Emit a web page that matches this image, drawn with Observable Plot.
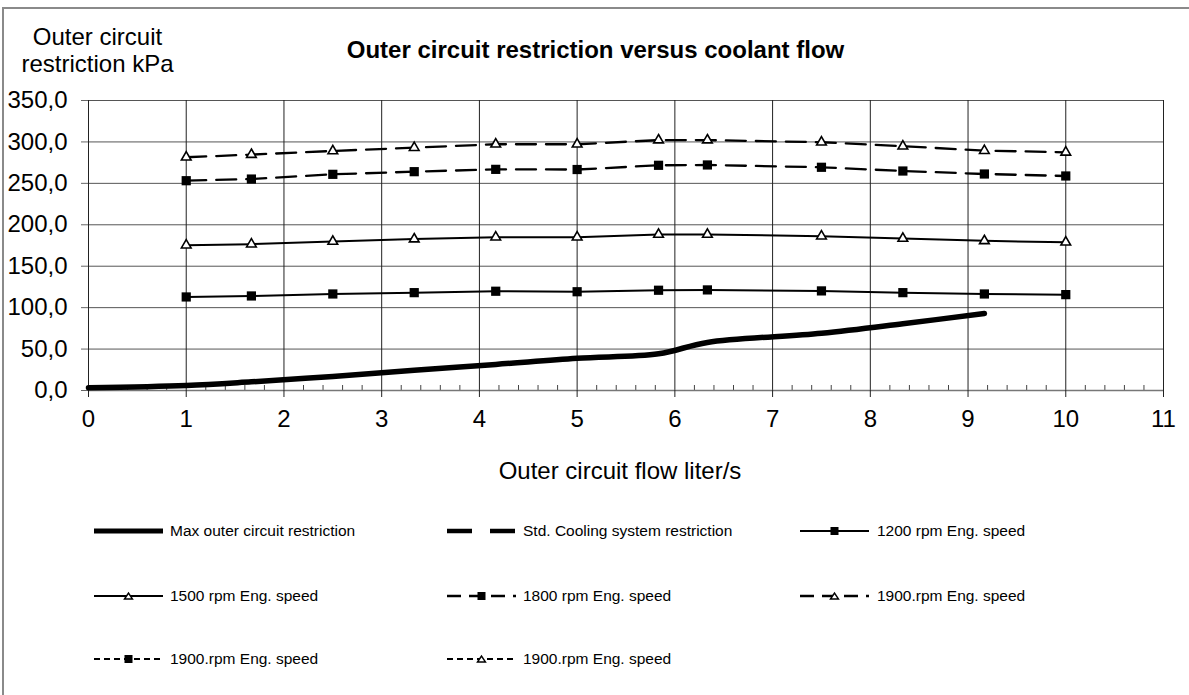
<!DOCTYPE html>
<html>
<head>
<meta charset="utf-8">
<script src="https://cdn.jsdelivr.net/npm/d3@7"></script>
<script src="https://cdn.jsdelivr.net/npm/@observablehq/plot@0.6"></script>
<style>
  html, body { margin: 0; padding: 0; background: #fff; }
  #root { position: relative; width: 1189px; height: 695px; overflow: hidden; font-family: "Liberation Sans", Arial, sans-serif; color: #000; }
  .frame { position: absolute; left: 2px; top: 7px; width: 1300px; height: 800px; border-left: 2px solid #8a8a8a; border-top: 2px solid #8a8a8a; }
  .abs { position: absolute; white-space: nowrap; }
  #plot { position: absolute; left: 0; top: 0; }
  .leg-text { position: absolute; font-size: 15.5px; line-height: 16px; white-space: nowrap; }
  .leg-svg { position: absolute; overflow: visible; }
</style>
</head>
<body>
<div id="root">
  <div class="frame"></div>
  <div id="plot"></div>
  <div class="abs" id="ytitle" style="left:0; width:195px; top:23px; text-align:center; font-size:24px; line-height:27px;"></div>
  <div class="abs" id="title" style="left:0; width:1191px; top:38px; text-align:center; font-size:24px; line-height:24px; font-weight:bold;"></div>
  <div class="abs" id="xtitle" style="left:0; width:1240px; top:459px; text-align:center; font-size:24px; line-height:24px;"></div>
  <div id="legend"></div>
</div>
<script>
// ---- data ----
const chartTitle = "Outer circuit restriction versus coolant flow";
const yTitleLines = ["Outer circuit", "restriction kPa"];
const xTitle = "Outer circuit flow liter/s";

const flow = [1, 1.667, 2.5, 3.333, 4.167, 5, 5.833, 6.333, 7.5, 8.333, 9.167, 10];
const maxFlow = [0, 1, 1.667, 2.5, 3.333, 4.167, 5, 5.833, 6.333, 7.5, 8.333, 9.167];
const maxRestriction = [3.3, 6.1, 10.5, 17, 24.5, 31.5, 39, 44.3, 58, 69, 80.5, 93];
const rpm1200 = [112.9, 114.1, 116.5, 118.1, 119.8, 119.2, 121, 121.4, 120.2, 118.1, 116.5, 115.7];
const rpm1500 = [175.4, 176.6, 179.8, 182.7, 185.1, 185.1, 188.3, 188.3, 186.3, 183.5, 180.6, 179];
const rpm1800 = [253.2, 255.2, 260.9, 264.1, 266.9, 266.7, 271.8, 272.2, 269.4, 264.9, 261.3, 258.9];
const rpm1900 = [281.5, 284.7, 289.1, 293.1, 297.2, 297.2, 302.2, 302.2, 299.6, 294.8, 289.5, 287.5];

const seriesNames = [
  "Max outer circuit restriction",
  "Std. Cooling system restriction",
  "1200 rpm Eng. speed",
  "1500 rpm Eng. speed",
  "1800 rpm Eng. speed",
  "1900.rpm Eng. speed",
  "1900.rpm Eng. speed",
  "1900.rpm Eng. speed"
];

const yTicks = [0, 50, 100, 150, 200, 250, 300, 350];
const xTicks = [0, 1, 2, 3, 4, 5, 6, 7, 8, 9, 10, 11];
const xMinorTicks = d3.range(0, 55).map(i => i / 5).filter(v => Math.abs(v - Math.round(v)) > 1e-9);

// ---- build tables ----
const toRows = (xs, ys) => xs.map((x, i) => ({x, y: ys[i]}));
const maxRows = toRows(maxFlow, maxRestriction);
const r1200 = toRows(flow, rpm1200);
const r1500 = toRows(flow, rpm1500);
const r1800 = toRows(flow, rpm1800);
const r1900 = toRows(flow, rpm1900);

const fmt = d => d.toFixed(1).replace(".", ",");

const chart = Plot.plot({
  width: 1189,
  height: 440,
  marginLeft: 88,
  marginRight: 26,
  marginTop: 100,
  marginBottom: 50,
  style: {fontFamily: "'Liberation Sans', Arial, sans-serif", background: "transparent", color: "#000", overflow: "visible"},
  x: {domain: [0, 11]},
  y: {domain: [0, 350]},
  marks: [
    Plot.gridY(yTicks, {stroke: "#555", strokeOpacity: 1, strokeWidth: 1}),
    Plot.gridX(xTicks, {stroke: "#222", strokeOpacity: 1, strokeWidth: 1}),
    Plot.tickX(xMinorTicks, {x: d => d, insetTop: 285, stroke: "#444", strokeWidth: 1}),
    Plot.ruleY([0], {stroke: "#777", strokeWidth: 1.5}),
    Plot.axisY(yTicks, {tickSize: 7, tickPadding: 14, fontSize: 24, tickFormat: fmt, label: null, stroke: "#666"}),
    Plot.axisX(xTicks, {tickSize: 7, tickPadding: 12, fontSize: 24, label: null, stroke: "#222"}),
    // Max outer circuit restriction
    Plot.line(maxRows, {x: "x", y: "y", stroke: "#000", strokeWidth: 5.5, curve: "catmull-rom"}),
    // 1200 rpm
    Plot.line(r1200, {x: "x", y: "y", stroke: "#000", strokeWidth: 2}),
    Plot.dot(r1200, {x: "x", y: "y", symbol: "square", r: 5.2, fill: "#000", stroke: "none"}),
    // 1500 rpm
    Plot.line(r1500, {x: "x", y: "y", stroke: "#000", strokeWidth: 2}),
    Plot.dot(r1500, {x: "x", y: "y", symbol: "triangle", r: 3.6, fill: "#fff", stroke: "#000", strokeWidth: 1.6}),
    // 1800 rpm
    Plot.line(r1800, {x: "x", y: "y", stroke: "#000", strokeWidth: 2.3, strokeDasharray: "20,10"}),
    Plot.dot(r1800, {x: "x", y: "y", symbol: "square", r: 5.2, fill: "#000", stroke: "none"}),
    // 1900 rpm
    Plot.line(r1900, {x: "x", y: "y", stroke: "#000", strokeWidth: 2.3, strokeDasharray: "20,10"}),
    Plot.dot(r1900, {x: "x", y: "y", symbol: "triangle", r: 3.6, fill: "#fff", stroke: "#000", strokeWidth: 1.6})
  ]
});
document.getElementById("plot").appendChild(chart);

// ---- titles ----
document.getElementById("title").textContent = chartTitle;
document.getElementById("xtitle").textContent = xTitle;
document.getElementById("ytitle").innerHTML = yTitleLines.map(s => `<div>${s}</div>`).join("");

// ---- legend ----
const legendStyles = [
  {width: 5, dash: null, marker: null},
  {width: 4.5, dash: "25,18", marker: null},
  {width: 2, dash: null, marker: "square"},
  {width: 2, dash: null, marker: "triangle"},
  {width: 2.5, dash: "14,8", marker: "square"},
  {width: 2.5, dash: "14,8", marker: "triangle"},
  {width: 2, dash: "6,4", marker: "square"},
  {width: 2, dash: "6,4", marker: "triangle"}
];
const colSample = [94, 447, 800];
const colText = [170, 523, 877];
const rowY = [531, 596, 659];
const legend = document.getElementById("legend");
seriesNames.forEach((name, i) => {
  const c = i % 3, r = Math.floor(i / 3);
  const st = legendStyles[i];
  const w = 69;
  const svgNS = "http://www.w3.org/2000/svg";
  const svg = document.createElementNS(svgNS, "svg");
  svg.setAttribute("class", "leg-svg");
  svg.setAttribute("width", w);
  svg.setAttribute("height", 14);
  svg.style.left = colSample[c] + "px";
  svg.style.top = (rowY[r] - 7) + "px";
  const line = document.createElementNS(svgNS, "line");
  line.setAttribute("x1", 0); line.setAttribute("x2", w);
  line.setAttribute("y1", 7); line.setAttribute("y2", 7);
  line.setAttribute("stroke", "#000");
  line.setAttribute("stroke-width", st.width);
  if (st.dash) line.setAttribute("stroke-dasharray", st.dash);
  svg.appendChild(line);
  if (st.marker === "square") {
    const rect = document.createElementNS(svgNS, "rect");
    rect.setAttribute("x", w / 2 - 4); rect.setAttribute("y", 3);
    rect.setAttribute("width", 8); rect.setAttribute("height", 8);
    rect.setAttribute("fill", "#000");
    svg.appendChild(rect);
  } else if (st.marker === "triangle") {
    const p = document.createElementNS(svgNS, "path");
    p.setAttribute("d", `M${w/2 - 4},10 L${w/2},4 L${w/2 + 4},10 Z`);
    p.setAttribute("fill", "#fff");
    p.setAttribute("stroke", "#000");
    p.setAttribute("stroke-width", 1.4);
    svg.appendChild(p);
  }
  legend.appendChild(svg);
  const t = document.createElement("div");
  t.className = "leg-text";
  t.style.left = colText[c] + "px";
  t.style.top = (rowY[r] - 8) + "px";
  t.textContent = name;
  legend.appendChild(t);
});
</script>
</body>
</html>
